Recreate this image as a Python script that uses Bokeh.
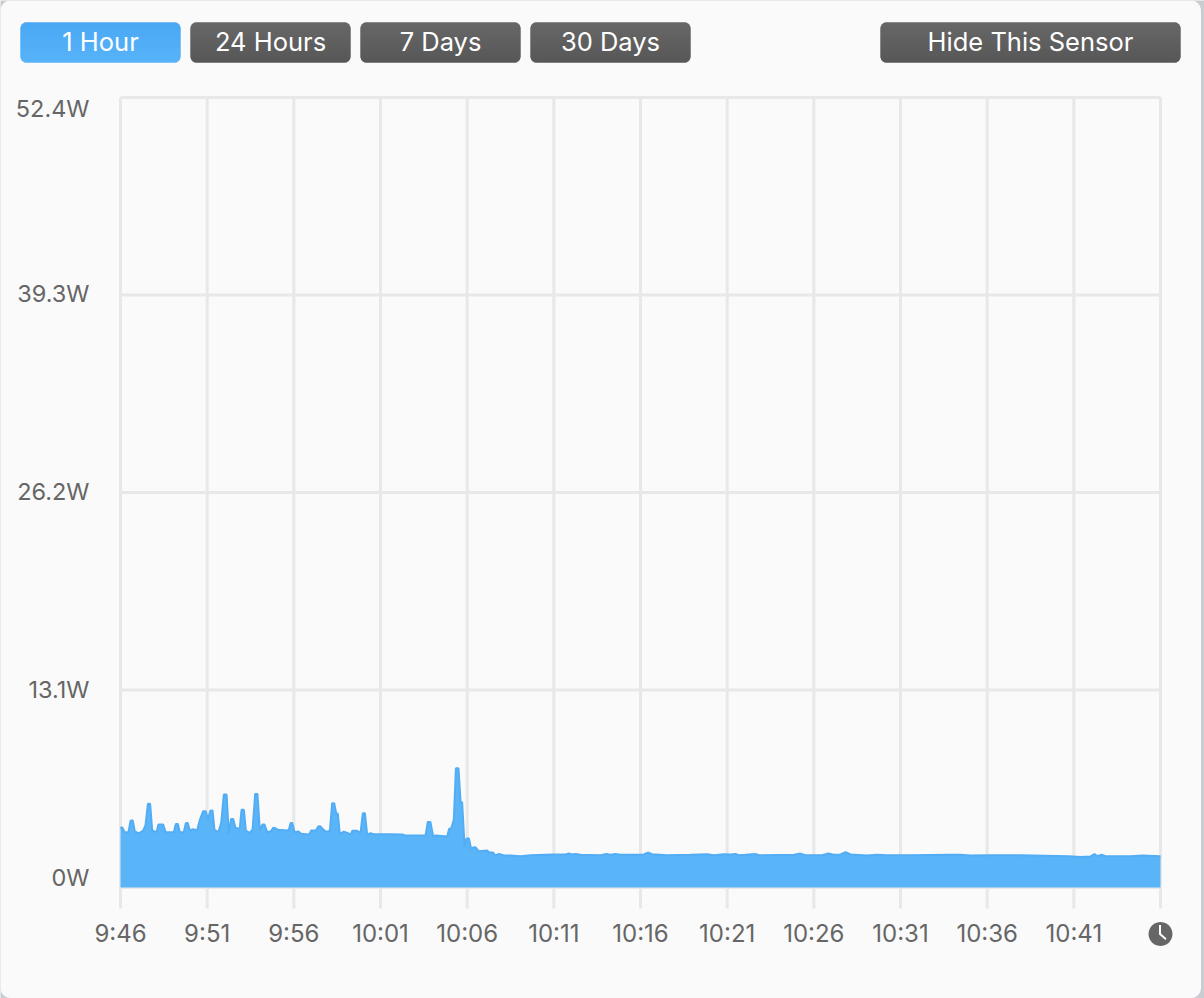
import math
from bokeh.plotting import figure
from bokeh.models import Range1d
from bokeh.core.properties import value
from bokeh.embed import file_html
from bokeh.resources import INLINE

minutes = [0,.12,.23,.46,.58,.71,.83,1.06,1.31,1.44,1.58,1.71,1.83,2.08,2.19,2.46,2.6,3.08,3.19,3.31,3.42,3.65,3.77,3.88,4.0,4.19,4.42,4.58,4.77,4.92,5.04,5.19,5.31,5.42,5.65,5.81,5.96,6.12,6.25,6.38,6.5,6.63,6.88,6.98,7.12,7.23,7.46,7.62,7.77,7.9,8.04,8.19,8.31,8.46,8.69,8.81,8.94,9.08,9.35,9.52,9.71,9.81,9.92,
 10.04,10.27,10.42,10.88,11.0,11.27,11.42,11.54,11.65,11.85,12.08,12.21,12.33,12.44,12.54,12.65,12.88,13.12,13.27,13.38,13.65,13.85,13.98,14.1,14.23,14.42,14.62,15.58,16.25,16.44,17.6,17.73,17.88,18.04,18.19,18.85,18.96,19.08,19.23,19.35,19.5,19.62,19.71,19.85,19.96,20.1,20.23,20.38,20.5,20.65,21.15,21.27,21.5,21.62,21.83,22.12,
 22.5,23.08,23.65,25.0,25.67,25.87,26.06,26.25,26.54,27.69,28.04,28.27,28.56,28.85,29.9,30.19,30.42,30.67,31.54,32.88,33.85,34.23,34.81,35.19,
 35.48,35.67,36.06,36.63,36.83,38.85,39.23,39.52,40.48,40.83,41.15,41.54,41.83,42.12,43.08,43.65,44.23,45.38,47.88,
 48.46,49.04,50.19,51.92,54.71,55.38,55.96,56.19,56.35,56.6,56.83,58.27,58.96,60.0]
watts = [4.0,3.96,3.67,3.67,4.44,4.44,3.71,3.6,3.78,4.11,5.55,5.55,3.78,3.67,4.18,4.18,3.67,3.67,4.22,4.22,3.67,3.67,4.27,4.27,3.78,3.87,3.78,4.49,5.06,5.06,4.51,5.11,5.11,3.82,3.67,4.29,6.17,6.17,3.56,4.55,4.55,3.96,3.89,5.15,5.15,3.78,3.63,3.85,6.21,6.21,3.78,4.18,4.18,3.67,3.74,3.96,3.93,3.82,3.82,3.78,3.82,4.27,4.27,
 3.67,3.71,3.56,3.51,3.78,3.78,4.07,4.05,3.89,3.69,3.76,5.59,5.59,4.93,4.89,3.56,3.71,3.6,3.51,3.76,3.76,3.63,4.93,4.93,3.51,3.6,3.54,3.54,3.51,3.45,3.45,4.35,4.35,3.38,3.45,3.38,3.89,3.93,4.49,7.91,7.91,5.66,5.66,2.72,3.25,3.25,2.56,2.67,2.65,2.41,2.45,2.34,2.32,2.12,2.23,2.12,
 2.12,2.08,2.14,2.19,2.19,2.25,2.19,2.23,2.17,2.14,2.23,2.17,2.23,2.17,2.17,2.19,2.32,2.21,2.14,2.17,2.21,2.14,2.21,2.19,
 2.23,2.14,2.17,2.23,2.14,2.17,2.25,2.14,2.14,2.25,2.17,2.19,2.34,2.19,2.12,2.17,2.14,2.14,2.17,
 2.17,2.12,2.14,2.14,2.08,2.03,2.06,2.21,2.08,2.17,2.08,2.08,2.12,2.08]

x_ticks = [0,5,10,15,20,25,30,35,40,45,50,55,60]
x_labels = ["9:46","9:51","9:56","10:01","10:06","10:11","10:16","10:21","10:26","10:31","10:36","10:41"]
y_ticks = [0,13.1,26.2,39.3,52.4]
y_labels = ["0W","13.1W","26.2W","39.3W","52.4W"]
buttons = ["1 Hour","24 Hours","7 Days","30 Days","Hide This Sensor"]

FONT = value("Inter")
BG = "#fafafa"
GRID = "#e8e8e8"
TXT = "#666666"
W, H = 1204, 998
L, R, T, B = 120, 1160, 97, 887          # plot rectangle in page pixels
XMAX, YMAX = x_ticks[-1], y_ticks[-1]
kx = (R - L) / XMAX
ky = (B - T) / YMAX

# the frame fills the page; ranges reach beyond the plot rectangle so that
# labels, buttons and icons can be drawn with the same scales
p = figure(width=W, height=H, output_backend="svg", toolbar_location=None,
           x_range=Range1d(-L / kx, XMAX + (W - R) / kx),
           y_range=Range1d(-(H - B) / ky, YMAX + T / ky),
           x_axis_location=None, y_axis_location=None,
           min_border=0, min_border_left=0, min_border_right=0, min_border_top=0, min_border_bottom=0,
           background_fill_color="#c9ccd0", border_fill_color=BG, outline_line_color=None)
p.grid.visible = False

def dx(px):
    return (px - L) / kx

def dy(py):
    return (B - py) / ky

def rounded(l, r, t, b, rad):
    xs, ys = [], []
    for cx, cy, a0 in [(r-rad, t+rad, -90), (r-rad, b-rad, 0), (l+rad, b-rad, 90), (l+rad, t+rad, 180)]:
        for k in range(7):
            a = math.radians(a0 + k*15)
            xs.append(dx(cx + rad*math.cos(a)))
            ys.append(dy(cy + rad*math.sin(a)))
    return xs, ys

# window panel
px, py = rounded(0, 1200.5, 0, 997.5, 10)
p.patch(px, py, fill_color=BG, line_color=None)

# grid lines, running below the plot as tick marks
tick_len = 21 / ky
p.segment(x0=x_ticks, y0=[-tick_len]*len(x_ticks), x1=x_ticks, y1=[YMAX]*len(x_ticks),
          line_color=GRID, line_width=3)
p.segment(x0=[0]*len(y_ticks), y0=y_ticks, x1=[XMAX]*len(y_ticks), y1=y_ticks,
          line_color=GRID, line_width=3)

# series
p.varea(x=minutes, y1=0, y2=watts, fill_color="#5ab4f8")
p.line(x=minutes, y=watts, line_color="#52adf4", line_width=2)

# tick labels
p.text(x=[0]*len(y_ticks), y=y_ticks, text=y_labels, x_offset=-31, y_offset=[-10, -1, -1, -2, 11],
       text_align="right", text_baseline="middle", text_font=FONT, text_font_size="23.5px", text_color=TXT)
p.text(x=x_ticks[:-1], y=[dy(933)]*len(x_labels), text=x_labels,
       text_align="center", text_baseline="middle", text_font=FONT, text_font_size="24px", text_color=TXT)

# buttons with a top-to-bottom shade
def mix(c0, c1, f):
    return "#%02x%02x%02x" % tuple(round(a + (b - a) * f) for a, b in zip(c0, c1))

boxes = [(20,180),(190,350),(360,520),(530,690),(880,1180)]
top, bot, rad = 22, 62, 6
for i, (lab, (l, r)) in enumerate(zip(buttons, boxes)):
    c0, c1 = ((72,166,243), (90,180,248)) if i == 0 else ((106,106,106), (85,85,85))
    bx, by = rounded(l, r, top, bot, rad)
    p.patch(bx, by, fill_color=mix(c0, c1, 0.5), line_color=None)
    for row in range(bot - top):
        d = min(row, bot - top - 1 - row) + 0.5
        inset = rad - math.sqrt(max(rad*rad - (rad - d)**2, 0)) if d < rad else 0
        p.quad(left=dx(l + inset), right=dx(r - inset), top=dy(top + row), bottom=dy(top + row + 1),
               fill_color=mix(c0, c1, row / (bot - top - 1)), line_color=None)
    p.text(x=[dx((l + r) / 2)], y=[dy(40.5)], text=[lab], text_align="center", text_baseline="middle",
           text_font=FONT, text_font_size="25.5px", text_color="#ffffff")

# clock icon
cx, cy = 1160, 933.5
hx, hy = rounded(cx-12, cx+12, cy-12, cy+12, 12)
p.patch(hx, hy, fill_color=TXT, line_color=None)
p.patch([dx(v) for v in (cx-1.5, cx+0.5, cx+0.5, cx+6, cx+5, cx-1.5)],
        [dy(v) for v in (cy-9, cy-9, cy-0.5, cy+4.5, cy+6, cy+0.5)],
        fill_color="#ffffff", line_color=None)

open("out.html", "w").write(file_html(p, INLINE))
